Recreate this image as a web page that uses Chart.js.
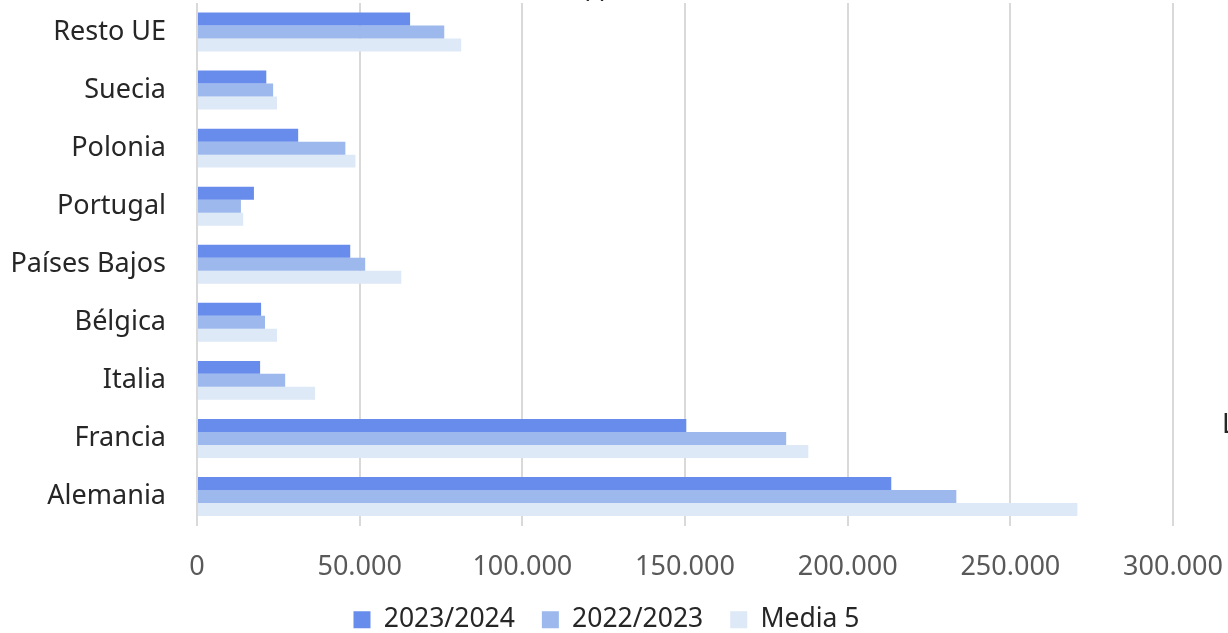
<!DOCTYPE html>
<html>
<head>
<meta charset="utf-8">
<script src="https://cdn.jsdelivr.net/npm/chart.js@4/dist/chart.umd.min.js"></script>
<style>
    html, body { margin: 0; padding: 0; background: #ffffff; }
    #wrap { position: relative; width: 1228px; height: 633px; }
</style>
</head>
<body>
<div id="wrap"><canvas id="chart" width="1228" height="633"></canvas></div>
<script>
// Data (toneladas)
const categories = ['Resto UE', 'Suecia', 'Polonia', 'Portugal', 'Países Bajos', 'Bélgica', 'Italia', 'Francia', 'Alemania'];
const serie2324 = [65500, 21300, 31100, 17500, 47100, 19700, 19400, 150400, 213400];
const serie2223 = [76000, 23400, 45600, 13500, 51700, 20900, 27100, 181100, 233400];
const media5 = [81200, 24600, 48700, 14200, 62800, 24600, 36300, 187900, 270600];
const seriesNames = ['2023/2024', '2022/2023', 'Media 5'];
const xTicks = [0, 50000, 100000, 150000, 200000, 250000, 300000];

const FONT = '"Noto Sans", "Open Sans", sans-serif';

// Text fragments cut by the picture edges
const fragments = {
    id: 'fragments',
    afterDraw(chart) {
        const ctx = chart.ctx;
        ctx.save();
        ctx.fillStyle = '#262626';
        ctx.font = '27px ' + FONT;
        ctx.textAlign = 'center';
        ctx.textBaseline = 'alphabetic';
        ctx.fillText('(t)', 595, -3);
        ctx.textAlign = 'left';
        ctx.fillText('L', 1222, 433);
        ctx.restore();
    }
};

// the legend in the original sits a little right of the canvas centre
const legendShift = {
    id: 'legendShift',
    afterLayout(chart) {
        if (chart.legend) {
            chart.legend.left += 20;
            chart.legend.right += 20;
        }
    }
};

new Chart(document.getElementById('chart'), {
    type: 'bar',
    data: {
        labels: categories,
        datasets: [
            { label: seriesNames[0], data: serie2324, backgroundColor: '#678ceb' },
            { label: seriesNames[1], data: serie2223, backgroundColor: '#9db8ec' },
            { label: seriesNames[2], data: media5, backgroundColor: '#dde9f6' }
        ]
    },
    options: {
        indexAxis: 'y',
        responsive: false,
        animation: false,
        layout: { padding: { top: 3, right: 55, bottom: -10, left: 0 } },
        datasets: {
            bar: { barPercentage: 1, categoryPercentage: 0.671 }
        },
        plugins: {
            tooltip: { enabled: false },
            legend: {
                position: 'bottom',
                labels: {
                    color: '#262626',
                    font: { family: FONT, size: 26.5 },
                    boxWidth: 17,
                    boxHeight: 17,
                    padding: 27
                }
            }
        },
        scales: {
            x: {
                min: 0,
                max: 300000,
                afterBuildTicks(scale) {
                    scale.ticks = xTicks.map(v => ({ value: v }));
                },
                afterFit(scale) {
                    scale.height = 54;
                    scale.paddingLeft = 0;
                    scale.paddingRight = 0;
                },
                grid: { color: '#d9d9d9', lineWidth: 2, drawTicks: false },
                border: { display: false },
                ticks: {
                    color: '#595959',
                    padding: 26,
                    font: { family: FONT, size: 27 },
                    callback: v => v.toLocaleString('de-DE')
                }
            },
            y: {
                afterFit(scale) {
                    scale.width = 197;
                    scale.paddingTop = 0;
                    scale.paddingBottom = 0;
                },
                grid: { display: false, drawTicks: false },
                border: { display: false },
                ticks: {
                    color: '#262626',
                    padding: 31,
                    font: { family: FONT, size: 27 }
                }
            }
        }
    },
    plugins: [fragments, legendShift]
});
</script>
</body>
</html>
